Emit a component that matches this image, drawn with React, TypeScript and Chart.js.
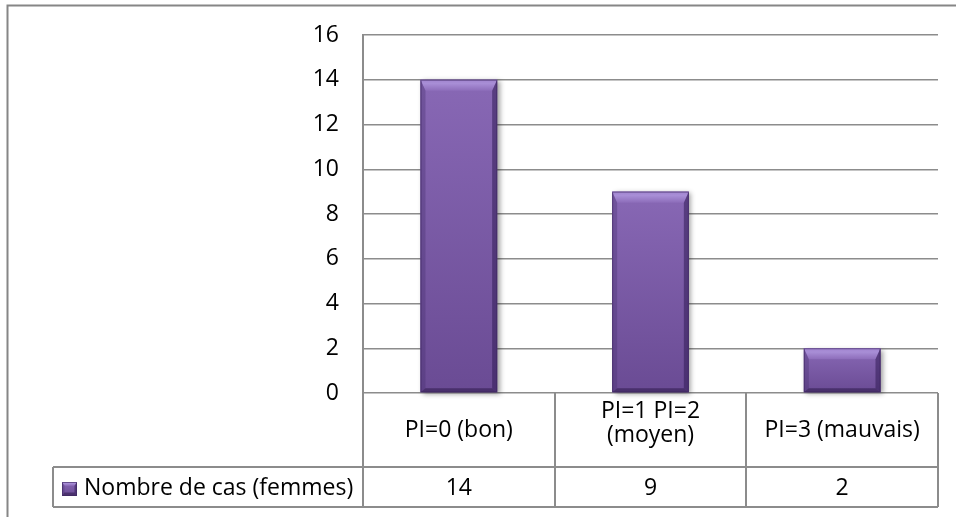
import { useEffect, useRef } from "react";
import { Chart, registerables } from "chart.js";

Chart.register(...registerables);

// Categories (multi-line labels are arrays), series and axis settings
const categories: (string | string[])[] = [
  "PI=0 (bon)",
  ["PI=1 PI=2", "(moyen)"],
  "PI=3 (mauvais)",
];
const seriesLabel = "Nombre de cas (femmes)";
const seriesValues = [14, 9, 2];
const yMin = 0;
const yMax = 16;
const yStep = 2;

const FONT_FAMILY = "'Open Sans', 'Noto Sans', sans-serif";
const FONT_SIZE = 23;
const LINE_COLOR = "#8c8c8c";
const TEXT_COLOR = "#000000";

const BAR_TOP = "#8868b5";
const BAR_BOTTOM = "#6a4b94";

// Draws an Excel-like bevelled bar body at the given rectangle
function drawBevelBox(
  ctx: CanvasRenderingContext2D,
  L: number,
  T: number,
  R: number,
  B: number,
  withShadow: boolean
) {
  const h = B - T;
  const w = R - L;
  if (h <= 0 || w <= 0) return;
  const tb = Math.min(11, h / 2.5, w / 4); // top facet depth
  const sb = Math.min(5, w / 6); // side facet width
  const bb = Math.min(4, h / 4); // bottom facet depth

  ctx.save();
  if (withShadow) {
    ctx.shadowColor = "rgba(0,0,0,0.38)";
    ctx.shadowBlur = 5;
    ctx.shadowOffsetX = 2.5;
    ctx.shadowOffsetY = 1.5;
  }
  const body = ctx.createLinearGradient(0, T, 0, B);
  body.addColorStop(0, BAR_TOP);
  body.addColorStop(1, BAR_BOTTOM);
  ctx.fillStyle = body;
  ctx.fillRect(L, T, w, h);
  ctx.restore();

  ctx.save();
  // top facet
  const top = ctx.createLinearGradient(0, T, 0, T + tb);
  top.addColorStop(0, "#a184cf");
  top.addColorStop(0.35, "#a88ed6");
  top.addColorStop(1, "#8d6dba");
  ctx.fillStyle = top;
  ctx.beginPath();
  ctx.moveTo(L, T);
  ctx.lineTo(R, T);
  ctx.lineTo(R - sb, T + tb);
  ctx.lineTo(L + sb, T + tb);
  ctx.closePath();
  ctx.fill();

  // left facet
  ctx.fillStyle = "rgba(70,45,110,0.35)";
  ctx.beginPath();
  ctx.moveTo(L, T);
  ctx.lineTo(L + sb, T + tb);
  ctx.lineTo(L + sb, B - bb);
  ctx.lineTo(L, B);
  ctx.closePath();
  ctx.fill();

  // right facet
  ctx.fillStyle = "rgba(50,28,85,0.55)";
  ctx.beginPath();
  ctx.moveTo(R, T);
  ctx.lineTo(R - sb, T + tb);
  ctx.lineTo(R - sb, B - bb);
  ctx.lineTo(R, B);
  ctx.closePath();
  ctx.fill();

  // bottom facet
  ctx.fillStyle = "rgba(45,25,75,0.55)";
  ctx.beginPath();
  ctx.moveTo(L, B);
  ctx.lineTo(L + sb, B - bb);
  ctx.lineTo(R - sb, B - bb);
  ctx.lineTo(R, B);
  ctx.closePath();
  ctx.fill();

  // thin dark outline
  ctx.strokeStyle = "rgba(60,38,95,0.6)";
  ctx.lineWidth = 1;
  ctx.strokeRect(L + 0.5, T + 0.5, w - 1, h - 1);
  ctx.restore();
}

const bevelBars = {
  id: "bevelBars",
  afterDatasetsDraw(chart: any) {
    const ctx: CanvasRenderingContext2D = chart.ctx;
    const meta = chart.getDatasetMeta(0);
    meta.data.forEach((bar: any) => {
      const { x, y, base, width } = bar.getProps(["x", "y", "base", "width"], true);
      drawBevelBox(ctx, x - width / 2, Math.min(y, base), x + width / 2, Math.max(y, base), true);
    });
  },
};

// Data table under the plot: category row, then legend key + values row
const dataTable = {
  id: "dataTable",
  afterDraw(chart: any) {
    const ctx: CanvasRenderingContext2D = chart.ctx;
    const area = chart.chartArea;
    const xs = chart.scales.x;
    const n = categories.length;
    const colW = (area.right - area.left) / n;
    const rowTop = area.bottom;
    const catBottom = rowTop + 74;
    const valBottom = catBottom + 40;
    const legendLeft = 53;

    ctx.save();
    ctx.strokeStyle = LINE_COLOR;
    ctx.lineWidth = 2;
    ctx.beginPath();
    for (let k = 0; k <= n; k++) {
      const x = Math.round(area.left + k * colW);
      ctx.moveTo(x, rowTop);
      ctx.lineTo(x, valBottom);
    }
    ctx.moveTo(legendLeft, catBottom);
    ctx.lineTo(area.right, catBottom);
    ctx.moveTo(legendLeft, valBottom);
    ctx.lineTo(area.right, valBottom);
    ctx.moveTo(legendLeft, catBottom);
    ctx.lineTo(legendLeft, valBottom);
    ctx.stroke();

    ctx.fillStyle = TEXT_COLOR;
    ctx.font = `${FONT_SIZE}px ${FONT_FAMILY}`;
    ctx.textAlign = "center";
    ctx.textBaseline = "alphabetic";
    const lineH = 24.5;
    categories.forEach((cat, i) => {
      const cx = xs.getPixelForValue(i);
      const lines = Array.isArray(cat) ? cat : [cat];
      const first = lines.length > 1 ? rowTop + 24.5 : rowTop + 44;
      lines.forEach((ln, j) => ctx.fillText(ln, cx, first + j * lineH));
      ctx.fillText(String(seriesValues[i]), cx, valBottom - 12);
    });

    // legend key
    drawBevelBox(ctx, 62, 482, 77, 496, false);
    ctx.textAlign = "left";
    ctx.fillText(seriesLabel, 84, valBottom - 12);

    // outer frame
    ctx.strokeStyle = "#868686";
    ctx.lineWidth = 2;
    ctx.strokeRect(7.5, 5.5, chart.width + 20, chart.height + 20);
    ctx.restore();
  },
};

export default function App() {
  const ref = useRef<HTMLCanvasElement | null>(null);

  useEffect(() => {
    document.body.style.margin = "0";
    const canvas = ref.current;
    if (!canvas) return;
    const chart = new Chart(canvas, {
      type: "bar",
      data: {
        labels: categories as any,
        datasets: [
          {
            label: seriesLabel,
            data: seriesValues,
            backgroundColor: BAR_TOP,
            borderWidth: 0,
            barPercentage: 0.4,
            categoryPercentage: 1,
          },
        ],
      },
      options: {
        responsive: false,
        animation: false,
        devicePixelRatio: 1,
        layout: { padding: { left: 0, top: 35, right: 18, bottom: 124 } },
        plugins: {
          legend: { display: false },
          tooltip: { enabled: false },
        },
        scales: {
          x: {
            display: false,
            offset: true,
            grid: { display: false },
          },
          y: {
            min: yMin,
            max: yMax,
            ticks: {
              stepSize: yStep,
              color: TEXT_COLOR,
              padding: 24,
              font: { family: FONT_FAMILY, size: FONT_SIZE },
            },
            grid: { color: LINE_COLOR, lineWidth: 1.5, drawTicks: false },
            border: { display: true, color: LINE_COLOR, width: 2 },
            afterFit(scale: any) {
              scale.width = 363;
              scale.paddingTop = 0;
              scale.paddingBottom = 0;
            },
          },
        },
      },
      plugins: [bevelBars, dataTable],
    });
    return () => chart.destroy();
  }, []);

  return (
    <canvas
      ref={ref}
      width={956}
      height={517}
      style={{ display: "block", width: 956, height: 517 }}
    />
  );
}
